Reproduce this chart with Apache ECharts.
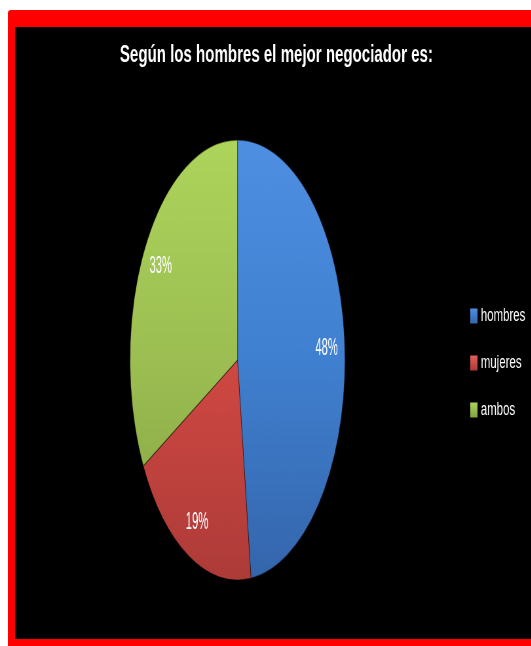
<!DOCTYPE html>
<html>
<head>
<meta charset="utf-8">
<script src="https://cdn.jsdelivr.net/npm/echarts@6/dist/echarts.min.js"></script>
<style>
  html, body { margin: 0; padding: 0; background: #fff; overflow: hidden; width: 531px; height: 646px; }
  #frame { position: absolute; left: 8px; top: 10px; width: 523px; height: 636px; background: #ff0000; border-top-left-radius: 3px; }
  #panel { position: absolute; left: 15px; top: 27px; width: 516px; height: 612px; background: #000; }
  /* the chart is laid out wide and condensed horizontally */
  #chart { position: absolute; left: 0; top: 0; width: 811px; height: 646px; transform: scaleX(0.655); transform-origin: 0 0; }
</style>
</head>
<body>
<div id="frame"></div>
<div id="panel"></div>
<div id="chart"></div>
<script>
const titleText = 'Según los hombres el mejor negociador es:';
const categories = ['hombres', 'mujeres', 'ambos'];
const shares = [48, 19, 33];

// light-to-dark shading for each slice
const palette = [
  ['#4f8fe2', '#4080d0', '#3465ab'],
  ['#e0605a', '#d04843', '#ad3b38'],
  ['#add45b', '#9cbe52', '#84a343']
];

const FONT = '"Liberation Sans", Arial, sans-serif';
const PIE_R = 220;          // vertical radius
const PIE_SQUASH = 0.746;   // horizontal squash of the pie
const PIE_CX = 362.6;
const PIE_CY = 360;
const LABEL_POS = 0.83;     // label distance as a share of the radius

const total = shares.reduce((a, b) => a + b, 0);

function shade(stops, global) {
  return global
    ? new echarts.graphic.LinearGradient(0, -PIE_R, 0, PIE_R, [
        { offset: 0, color: stops[0] }, { offset: 0.5, color: stops[1] }, { offset: 1, color: stops[2] }
      ], true)
    : new echarts.graphic.LinearGradient(0, 0, 0, 1, [
        { offset: 0, color: stops[0] }, { offset: 1, color: stops[2] }
      ]);
}

function renderSlice(params, api) {
  const i = params.seriesIndex;
  let before = 0;
  for (let k = 0; k < i; k++) before += shares[k];
  const value = api.value(0);
  const start = -Math.PI / 2 + (before / total) * Math.PI * 2;
  const end = start + (value / total) * Math.PI * 2;
  const mid = (start + end) / 2;
  return {
    type: 'group',
    x: PIE_CX,
    y: PIE_CY,
    scaleX: PIE_SQUASH,
    children: [
      {
        type: 'sector',
        shape: { cx: 0, cy: 0, r0: 0, r: PIE_R, startAngle: start, endAngle: end, clockwise: true },
        style: { fill: shade(palette[i], true), stroke: 'rgba(0,0,0,0.4)', lineWidth: 1.4 }
      },
      {
        type: 'text',
        x: Math.cos(mid) * PIE_R * LABEL_POS,
        y: Math.sin(mid) * PIE_R * LABEL_POS,
        style: {
          text: value + '%',
          fill: '#ffffff',
          font: '23px ' + FONT,
          align: 'center',
          verticalAlign: 'middle'
        }
      }
    ]
  };
}

const chart = echarts.init(document.getElementById('chart'));
chart.setOption({
  animation: false,
  backgroundColor: 'transparent',
  title: {
    text: titleText,
    left: 178,
    top: 39,
    textStyle: { color: '#ffffff', fontSize: 23, fontWeight: 'bold', fontFamily: FONT }
  },
  legend: {
    orient: 'vertical',
    left: 718,
    top: 307,
    padding: 0,
    itemGap: 29,
    itemWidth: 11,
    itemHeight: 15,
    icon: 'rect',
    data: categories,
    textStyle: { color: '#ffffff', fontSize: 17.5, lineHeight: 17, fontFamily: FONT }
  },
  series: categories.map((name, i) => ({
    type: 'custom',
    name: name,
    coordinateSystem: 'none',
    itemStyle: { color: shade(palette[i], false) },
    renderItem: renderSlice,
    data: [[shares[i]]]
  }))
});
</script>
</body>
</html>
